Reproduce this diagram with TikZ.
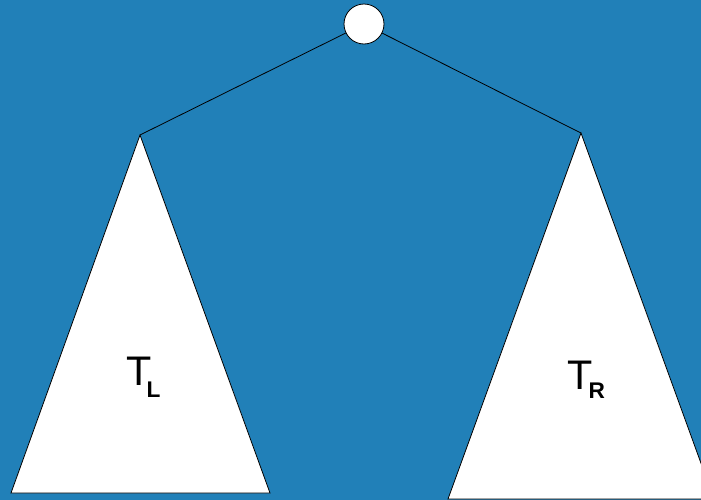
\documentclass[tikz,border=0pt]{standalone}
\usepackage{fontspec}
\setmainfont{Liberation Sans}
\definecolor{bg}{RGB}{33,128,184}
\tikzset{
  subtree/.style={fill=white,draw=black,line width=0.6pt,line join=miter},
  edge/.style={draw=black,line width=0.6pt},
  treenode/.style={circle,fill=white,draw=black,line width=0.6pt,minimum size=30pt,inner sep=0pt},
  treelabel/.style={inner sep=0pt,anchor=base west,font=\fontsize{31}{31}\selectfont}
}
\newcommand{\subtreesub}[3]{T\kern#1\raisebox{#2}{\bfseries\fontsize{17}{17}\selectfont #3}}
\begin{document}
\begin{tikzpicture}[x=0.75pt,y=-0.75pt]
\fill[bg] (0,0) rectangle (701,500);
\useasboundingbox (0,0) rectangle (701,500);
% subtrees
\coordinate (la) at (140,135);
\coordinate (lb1) at (11,493);
\coordinate (lb2) at (270,493);
\coordinate (ra) at (581,133);
\coordinate (rb1) at (448,499);
\coordinate (rb2) at (714,499);
\path[subtree] (la) -- (lb2) -- (lb1) -- cycle;
\path[subtree] (ra) -- (rb2) -- (rb1) -- cycle;
% root
\node[treenode] (root) at (364,24) {};
\draw[edge] (root) -- (la);
\draw[edge] (root) -- (ra);
% labels
\node[treelabel] (tl) at (126,385) {\subtreesub{-3.75pt}{-9pt}{L}};
\node[treelabel] (tr) at (567,389) {\subtreesub{-3pt}{-6.75pt}{R}};
\end{tikzpicture}
\end{document}
